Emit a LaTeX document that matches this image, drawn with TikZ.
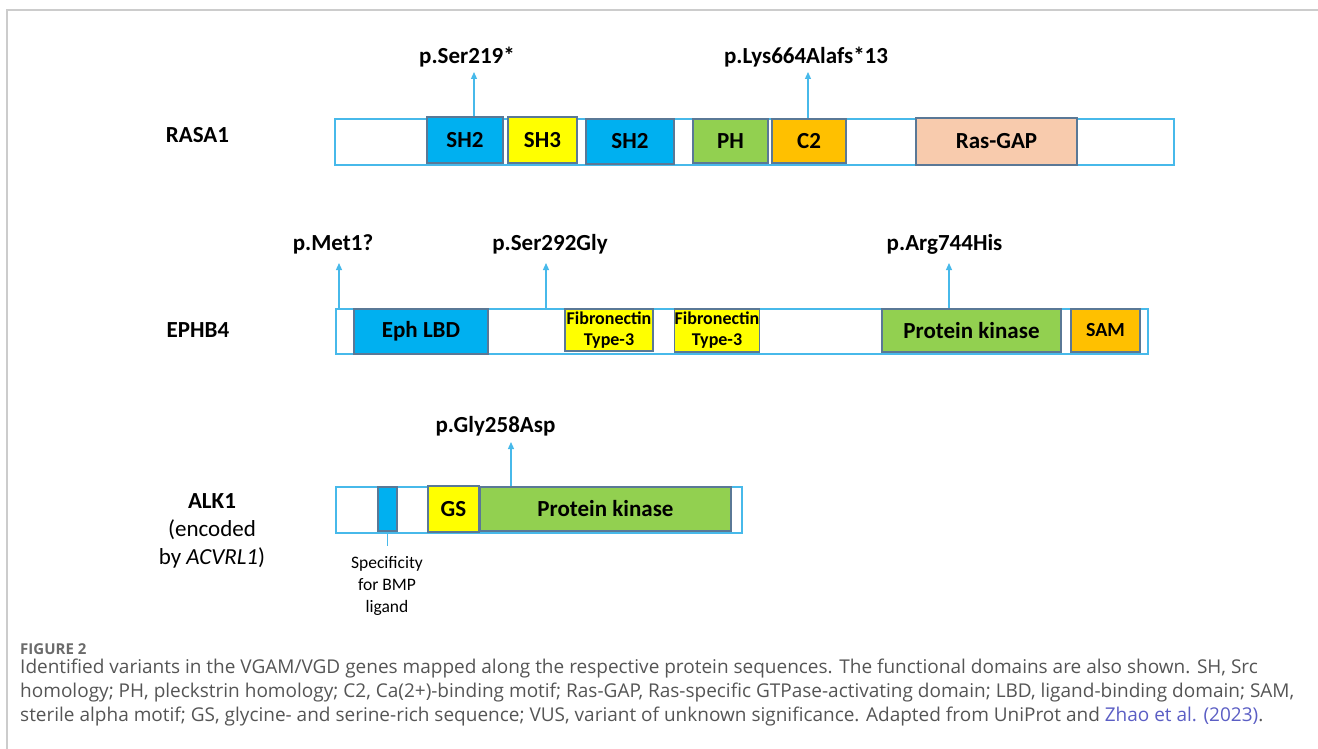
\documentclass[tikz,border=0pt]{standalone}
\usepackage{fontspec}
\setmainfont{Carlito}
\newfontfamily\capfont{Open Sans}
\usetikzlibrary{arrows.meta}
\definecolor{seqline}{HTML}{47B9EA}
\definecolor{domline}{HTML}{5A7896}
\definecolor{shblue}{HTML}{00B0F0}
\definecolor{shyel}{HTML}{FFFF00}
\definecolor{kgreen}{HTML}{92D050}
\definecolor{corange}{HTML}{FFC000}
\definecolor{gappeach}{HTML}{F8CBAD}
\definecolor{framegray}{HTML}{CCCCCC}
\definecolor{captxt}{HTML}{555555}
\definecolor{capfig}{HTML}{6B6B6B}
\definecolor{caplink}{HTML}{5B5EC4}
\tikzset{
  prot/.style={rectangle, draw=seqline, line width=1.6pt, fill=white, inner sep=0pt},
  dom/.style={rectangle, draw=domline, line width=1.2pt, inner sep=0pt,
              font=\fontsize{23}{26}\selectfont\bfseries},
  fn/.style={dom, fill=shyel, align=center, font=\fontsize{18}{21}\selectfont\bfseries},
  mut/.style={-{Triangle[length=7pt,width=6pt]}, draw=seqline, line width=1.2pt},
  varlbl/.style={anchor=base, inner sep=0pt, font=\fontsize{23}{26}\selectfont\bfseries},
  gene/.style={inner sep=0pt, align=center, font=\fontsize{23}{28}\selectfont},
  captext/.style={anchor=base west, inner sep=0pt, text=captxt,
              font=\capfont\fontsize{19}{24}\selectfont}
}

\begin{document}
\begin{tikzpicture}[x=1pt, y=-1pt]
  \useasboundingbox (0,0) rectangle (1318,749);
  \draw[framegray, line width=1.5pt] (7,749) -- (7,10) -- (1318,10);

  % RASA1
  \node[gene, font=\fontsize{23}{28}\selectfont\bfseries, anchor=base] (grasa) at (197.5,143) {RASA1};
  \node[prot, minimum width=839pt, minimum height=46pt] (rasa) at (754.5,142) {};
  \node[dom, fill=shblue, minimum width=76pt, minimum height=46pt] (sh2a) at (465,140) {SH2};
  \node[dom, fill=shyel, minimum width=69pt, minimum height=46pt] (sh3) at (542.5,140) {SH3};
  \node[dom, fill=shblue, minimum width=88pt, minimum height=45pt] (sh2b) at (630,141.5) {SH2};
  \node[dom, fill=kgreen, minimum width=75pt, minimum height=44pt] (ph) at (730.5,141) {PH};
  \node[dom, fill=corange, minimum width=74pt, minimum height=44pt] (ctwo) at (809,141) {C2};
  \node[dom, fill=gappeach, minimum width=161pt, minimum height=47pt] (rasgap) at (996.5,141.5) {Ras-GAP};
  \node[varlbl] (v1) at (467,64) {p.Ser219*};
  \node[varlbl] (v2) at (806,64) {p.Lys664Alafs*13};
  \coordinate (t1) at (474,72);
  \coordinate (t2) at (808,72);

  % EPHB4
  \node[gene, font=\fontsize{23}{28}\selectfont\bfseries, anchor=base] (gephb) at (198,337) {EPHB4};
  \node[prot, minimum width=812pt, minimum height=45pt] (ephb) at (742,331.5) {};
  \node[dom, fill=shblue, minimum width=134pt, minimum height=45pt] (lbd) at (421,331.5) {Eph LBD};
  \node[fn, minimum width=88pt, minimum height=42pt] (fna) at (609,330) {Fibronectin\\Type-3};
  \node[fn, minimum width=80pt, minimum height=43pt] (fnb) at (717,330.5) {Fibronectin\\Type-3};
  \node[dom, fill=kgreen, minimum width=179pt, minimum height=43pt] (pkb) at (971.5,330.5) {Protein kinase};
  \node[dom, fill=corange, minimum width=69pt, minimum height=43pt,
        font=\fontsize{20}{24}\selectfont\bfseries] (sam) at (1105.5,330.5) {SAM};
  \node[varlbl] (v3) at (333,250) {p.Met1?};
  \node[varlbl] (v4) at (550,250) {p.Ser292Gly};
  \node[varlbl] (v5) at (944.5,250) {p.Arg744His};
  \coordinate (t3) at (339,263);
  \coordinate (t4) at (546,263);
  \coordinate (t5) at (949,263);

  % ALK1
  \node[gene] (galk) at (212,531) {\textbf{ALK1}\\(encoded\\by \textit{ACVRL1})};
  \node[prot, minimum width=406pt, minimum height=46pt] (alk) at (539,510) {};
  \node[dom, fill=shblue, minimum width=19pt, minimum height=44pt] (bmp) at (387.5,509) {};
  \node[dom, fill=shyel, minimum width=51pt, minimum height=46pt] (gs) at (453.5,509) {GS};
  \node[dom, fill=kgreen, minimum width=251pt, minimum height=44pt] (pkc) at (605.5,509) {Protein kinase};
  \node[varlbl] (v6) at (495.5,432) {p.Gly258Asp};
  \coordinate (t6) at (511,442);
  \coordinate (bt) at (387.5,546);
  \node[gene, font=\fontsize{17.5}{22}\selectfont] (spec) at (387,586) {Specificity\\for BMP\\ligand};
  \draw[seqline, line width=1pt] (bmp.south) -- (bt);

  \foreach \d/\t in {sh2a/t1,ctwo/t2,ephb/t3,ephb/t4,pkb/t5,pkc/t6}
    \draw[mut] (\t |- \d.north) -- (\t);

  % caption
  \node[captext, text=capfig, font=\capfont\fontsize{15}{16}\selectfont\bfseries] (fig) at (20,654) {FIGURE 2};
  \node[captext] (capa) at (20,673) {Identified variants in the VGAM/VGD genes mapped along the respective protein sequences. The functional domains are also shown. SH, Src};
  \node[captext] (capb) at (20,697) {homology; PH, pleckstrin homology; C2, Ca(2+)-binding motif; Ras-GAP, Ras-specific GTPase-activating domain; LBD, ligand-binding domain; SAM,};
  \node[captext] (capc) at (20,721) {sterile alpha motif; GS, glycine- and serine-rich sequence; VUS, variant of unknown significance. Adapted from UniProt and \textcolor{caplink}{Zhao et al. (2023)}.};
\end{tikzpicture}
\end{document}
